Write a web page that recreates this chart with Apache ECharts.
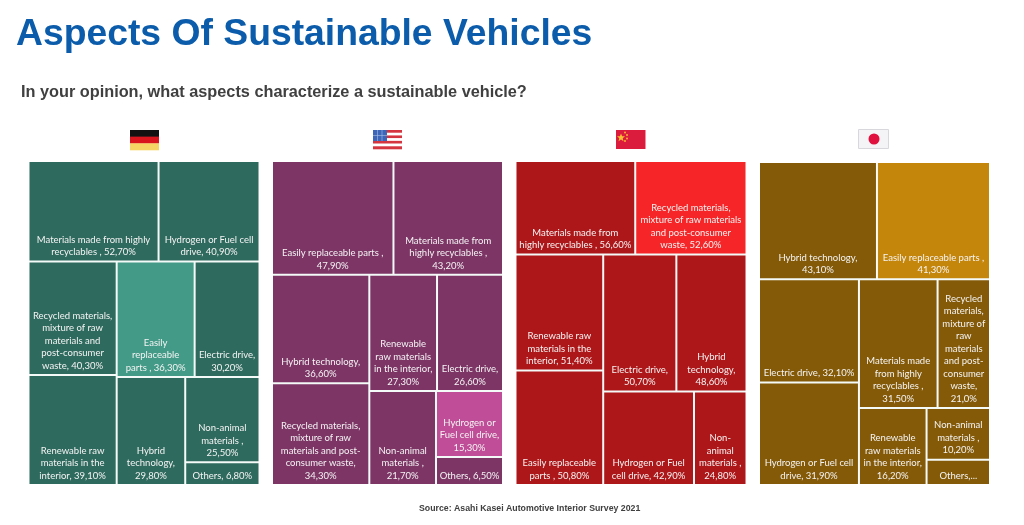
<!DOCTYPE html>
<html>
<head>
<meta charset="utf-8">
<title>Aspects Of Sustainable Vehicles</title>
<script src="https://cdn.jsdelivr.net/npm/echarts@6/dist/echarts.min.js"></script>
<style>
html,body{margin:0;padding:0;background:#fff}
#chart{width:1024px;height:525px}
</style>
</head>
<body>
<div id="chart"></div>
<script>
var deLabels = ['Materials made from highly\nrecyclables , 52,70%','Hydrogen or Fuel cell\ndrive, 40,90%','Recycled materials,\nmixture of raw\nmaterials and\npost-consumer\nwaste, 40,30%','Renewable raw\nmaterials in the\ninterior, 39,10%','Easily\nreplaceable\nparts , 36,30%','Electric drive,\n30,20%','Hybrid\ntechnology,\n29,80%','Non-animal\nmaterials ,\n25,50%','Others, 6,80%'];
var deValues = [52.7,40.9,40.3,39.1,36.3,30.2,29.8,25.5,6.8];
var usLabels = ['Easily replaceable parts ,\n47,90%','Materials made from\nhighly recyclables ,\n43,20%','Hybrid technology,\n36,60%','Recycled materials,\nmixture of raw\nmaterials and post-\nconsumer waste,\n34,30%','Renewable\nraw materials\nin the interior,\n27,30%','Electric drive,\n26,60%','Non-animal\nmaterials ,\n21,70%','Hydrogen or\nFuel cell drive,\n15,30%','Others, 6,50%'];
var usValues = [47.9,43.2,36.6,34.3,27.3,26.6,21.7,15.3,6.5];
var cnLabels = ['Materials made from\nhighly recyclables , 56,60%','Recycled materials,\nmixture of raw materials\nand post-consumer\nwaste, 52,60%','Renewable raw\nmaterials in the\ninterior, 51,40%','Easily replaceable\nparts , 50,80%','Electric drive,\n50,70%','Hybrid\ntechnology,\n48,60%','Hydrogen or Fuel\ncell drive, 42,90%','Non-\nanimal\nmaterials ,\n24,80%'];
var cnValues = [56.6,52.6,51.4,50.8,50.7,48.6,42.9,24.8];
var jpLabels = ['Hybrid technology,\n43,10%','Easily replaceable parts ,\n41,30%','Electric drive, 32,10%','Hydrogen or Fuel cell\ndrive, 31,90%','Materials made\nfrom highly\nrecyclables ,\n31,50%','Recycled\nmaterials,\nmixture of\nraw\nmaterials\nand post-\nconsumer\nwaste,\n21,0%','Renewable\nraw materials\nin the interior,\n16,20%','Non-animal\nmaterials ,\n10,20%','Others,...'];
var jpValues = [43.1,41.3,32.1,31.9,31.5,21.0,16.2,10.2,5.0];

function makeNodes(labels, values, color, hiColor, hiIndex) {
	var data = [];
	for (var i = 0; i < labels.length; i++) {
		data.push({
			name: labels[i],
			value: values[i],
			itemStyle: {color: i == hiIndex ? hiColor : color}
		});
	}
	return data;
}

function makeSeries(data, left, top, height) {
	return {
		type: 'treemap',
		left: left,
		top: top,
		width: 229,
		height: height,
		roam: false,
		nodeClick: false,
		silent: true,
		squareRatio: 1,
		sort: false,
		visibleMin: 0,
		breadcrumb: {show: false},
		levels: [
			{itemStyle: {gapWidth: 2, borderWidth: 0, borderColor: '#f4faf8'}},
			{itemStyle: {gapWidth: 2, borderWidth: 0, borderColor: '#f4faf8'}}
		],
		label: {
			show: true,
			position: 'insideBottom',
			distance: 3,
			offset: [0, 3],
			color: '#f4f4f4',
			fontFamily: 'Lato',
			fontSize: 9.5,
			lineHeight: 12.5,
			align: 'center',
			overflow: 'none',
			padding: [0, 0, 2, 0],
			formatter: '{b}'
		},
		data: data
	};
}

// 日本这一块 Materials 和 Recycled 并排，单独分一组
var jpNodes = makeNodes(jpLabels, jpValues, '#845a08', '#c5860c', 1);
var jpData = [jpNodes[0], jpNodes[1], jpNodes[2], jpNodes[3],
	{name: '', value: jpValues[4] + jpValues[5], children: [jpNodes[4], jpNodes[5]]},
	jpNodes[6], jpNodes[7], jpNodes[8]];

// 国旗
function stripes(x, y, w, h, cols) {
	var out = [], sh = h / cols.length;
	for (var i = 0; i < cols.length; i++) {
		out.push({type: 'rect', shape: {x: x, y: y + i * sh, width: w, height: sh + 0.3}, style: {fill: cols[i]}});
	}
	return out;
}
var flags = [];
flags = flags.concat(stripes(130, 130, 29, 20, ['#111111', '#d8141c', '#f7d565']));
flags = flags.concat(stripes(373, 130, 29, 19, ['#d4353f', '#fff', '#d4353f', '#fff', '#d4353f', '#fff', '#d4353f']));
flags.push({type: 'rect', shape: {x: 373, y: 130, width: 14, height: 11}, style: {fill: '#3c66b8'}});
flags.push({type: 'line', shape: {x1: 377.5, y1: 130, x2: 377.5, y2: 141}, style: {stroke: '#a9bfe6', lineWidth: 0.6}});
flags.push({type: 'line', shape: {x1: 382, y1: 130, x2: 382, y2: 141}, style: {stroke: '#a9bfe6', lineWidth: 0.6}});
flags.push({type: 'line', shape: {x1: 373, y1: 135.5, x2: 387, y2: 135.5}, style: {stroke: '#a9bfe6', lineWidth: 0.6}});
flags.push({type: 'rect', shape: {x: 616, y: 130, width: 29.5, height: 19}, style: {fill: '#dc1c3c'}});
flags.push({type: 'polygon', shape: {points: [[621, 133.5], [622.1, 136.3], [625, 136.3], [622.7, 138.2], [623.5, 141.2], [621, 139.4], [618.5, 141.2], [619.3, 138.2], [617, 136.3], [619.9, 136.3]]}, style: {fill: '#f6c232'}});
flags.push({type: 'circle', shape: {cx: 625, cy: 132.5, r: 0.9}, style: {fill: '#f6c232'}});
flags.push({type: 'circle', shape: {cx: 627, cy: 135, r: 0.9}, style: {fill: '#f6c232'}});
flags.push({type: 'circle', shape: {cx: 627, cy: 138.5, r: 0.9}, style: {fill: '#f6c232'}});
flags.push({type: 'circle', shape: {cx: 625, cy: 141, r: 0.9}, style: {fill: '#f6c232'}});
flags.push({type: 'rect', shape: {x: 858.5, y: 129.5, width: 30, height: 19}, style: {fill: '#f4f4f6', stroke: '#d8d8dc', lineWidth: 1}});
flags.push({type: 'circle', shape: {cx: 874, cy: 139, r: 5.5}, style: {fill: '#e0103f'}});

var myChart = echarts.init(document.getElementById('chart'));
myChart.setOption({
	animation: false,
	backgroundColor: '#fff',
	title: [
		{text: 'Aspects Of Sustainable Vehicles', left: 11, top: 11, textStyle: {fontFamily: 'Liberation Sans', fontWeight: 'bold', fontSize: 37.3, color: '#0b5cab'}},
		{text: 'In your opinion, what aspects characterize a sustainable vehicle?', left: 16, top: 80, textStyle: {fontFamily: 'Liberation Sans', fontWeight: 'bold', fontSize: 16.3, color: '#404040'}},
		{text: 'Source: Asahi Kasei Automotive Interior Survey 2021', left: 414, top: 499, textStyle: {fontFamily: 'Liberation Sans', fontWeight: 'bold', fontSize: 8.75, color: '#404040'}}
	],
	graphic: flags,
	series: [
		makeSeries(makeNodes(deLabels, deValues, '#2f6a5e', '#439a87', 4), 29.5, 162, 322),
		makeSeries(makeNodes(usLabels, usValues, '#7d3566', '#bf4d97', 7), 273, 162, 322),
		makeSeries(makeNodes(cnLabels, cnValues, '#ae1719', '#f62527', 1), 516.5, 162, 322),
		makeSeries(jpData, 760, 163, 321)
	]
});
</script>
</body>
</html>
